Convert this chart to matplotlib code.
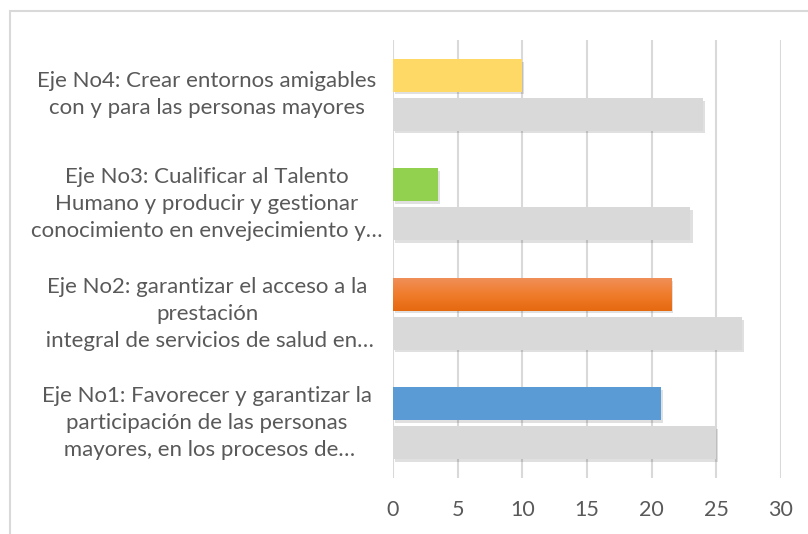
import matplotlib.pyplot as plt
import matplotlib.patheffects as pe
from matplotlib.colors import LinearSegmentedColormap
from matplotlib.patches import Rectangle
from matplotlib.transforms import blended_transform_factory
import numpy as np

categories = [
    "Eje No1: Favorecer y garantizar la\nparticipación de las personas\n mayores, en los procesos de…",
    "Eje No2: garantizar el acceso a la\nprestación\n integral de servicios de salud en…",
    "Eje No3: Cualificar al Talento\nHumano y producir y gestionar\nconocimiento en envejecimiento y…",
    "Eje No4: Crear entornos amigables\ncon y para las personas mayores",
]
colored_values = [20.7, 21.5, 3.5, 10.0]
gray_values = [25.0, 27.0, 23.0, 24.0]
bar_colors = ["#5b9bd5", "#ed7d31", "#92d050", "#ffd966"]
x_ticks = [0, 5, 10, 15, 20, 25, 30]

plt.rcParams["font.family"] = ["Lato", "DejaVu Sans"]
text_color = "#595959"
grid_color = "#d9d9d9"

fig = plt.figure(figsize=(8.08, 5.34), dpi=100)
ax = fig.add_axes([393 / 808, 1 - 478 / 534, (781 - 393) / 808, (478 - 40) / 534])

y = np.arange(len(categories))
h = 0.30
off = 0.178
shadow = [pe.SimplePatchShadow(offset=(1.5, -2), shadow_rgbFace="#000000", alpha=0.12), pe.Normal()]

gray_bars = ax.barh(y - off, gray_values, height=h, color="#d9d9d9", zorder=3)
col_bars = ax.barh(y + off, colored_values, height=h, color=bar_colors, zorder=3)
for b in list(gray_bars) + list(col_bars):
    b.set_path_effects(shadow)

# vertical gradient on the orange bar
ob = col_bars[1]
cmap = LinearSegmentedColormap.from_list("og", ["#e5690f", "#f07c2b", "#f08f58"])
grad = np.linspace(0, 1, 64).reshape(-1, 1)
im = ax.imshow(grad, cmap=cmap, aspect="auto", origin="lower",
               extent=[ob.get_x(), ob.get_x() + ob.get_width(), ob.get_y(), ob.get_y() + ob.get_height()],
               zorder=3.5)
im.set_clip_path(ob)

ax.set_xlim(0, 30)
ax.set_ylim(-0.5, len(categories) - 0.5)
ax.set_xticks(x_ticks)
ax.set_yticks([])
ax.grid(axis="x", color=grid_color, linewidth=1.5, zorder=0)
ax.tick_params(axis="x", length=0, pad=16, labelsize=15.5, labelcolor=text_color)
for s in ax.spines.values():
    s.set_visible(False)

trans = blended_transform_factory(fig.transFigure, ax.transData)
for i, lab in enumerate(categories):
    ax.text(207 / 808, i, lab, transform=trans, ha="center", va="center",
            multialignment="center", fontsize=16, color=text_color, linespacing=1.45)

fig.add_artist(Rectangle((10 / 808, -0.1), 1.2, (534 - 11) / 534 + 0.1, transform=fig.transFigure,
                         fill=False, edgecolor=grid_color, linewidth=1.5))

fig.savefig("out.png", dpi=100)
plt.close(fig)
